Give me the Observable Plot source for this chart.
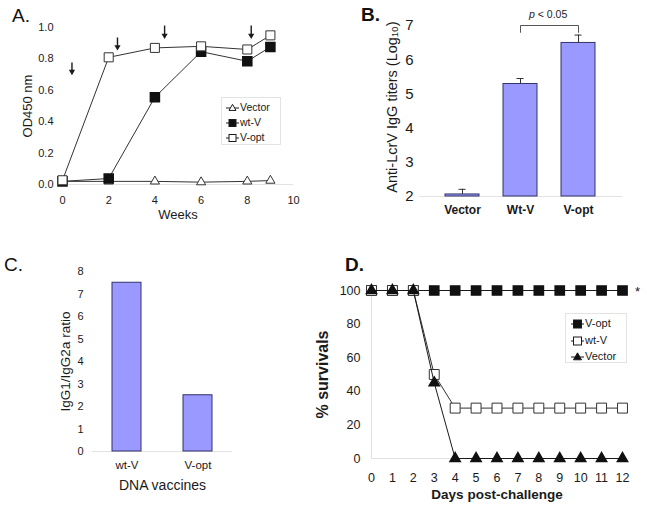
<!DOCTYPE html>
<html><head><meta charset="utf-8">
<script src="https://cdn.jsdelivr.net/npm/d3@7"></script>
<script src="https://cdn.jsdelivr.net/npm/@observablehq/plot@0.6"></script>
<style>
body{margin:0;background:#fff;}
#root{position:relative;width:647px;height:512px;overflow:hidden;font-family:"Liberation Sans",Arial,sans-serif;color:#111;background:#fff;}
.abs{position:absolute;white-space:nowrap;}
.legend{position:absolute;border:1px solid #e3e3e3;background:#fff;box-sizing:border-box;}
</style></head><body><div id="root"></div>
<script>
// ---------- Panel A data ----------
const weeks = [0, 2, 4, 6, 8, 9];
const odVector = [0.02, 0.02, 0.02, 0.015, 0.02, 0.025];
const odWtV = [0.02, 0.038, 0.556, 0.846, 0.785, 0.876];
const odVopt = [0.027, 0.81, 0.87, 0.88, 0.86, 0.95];
const arrowWeeks = [0.41, 2.38, 4.42, 8.17];
const arrowTop = [0.755, 0.914, 0.99, 0.99];
const arrowTip = [0.70, 0.857, 0.93, 0.93];
const weekTicks = [0, 2, 4, 6, 8, 10];
const odTicks = [0, 0.2, 0.4, 0.6, 0.8, 1.0];

// ---------- Panel B data ----------
const titerGroups = ["Vector", "Wt-V", "V-opt"];
const titerMeans = [2.06, 5.29, 6.49];
const titerErrTop = [2.21, 5.45, 6.72];
const titerTicks = [2, 3, 4, 5, 6, 7];

// ---------- Panel C data ----------
const ratioGroups = ["wt-V", "V-opt"];
const ratioValues = [7.5, 2.5];
const ratioTicks = [0, 1, 2, 3, 4, 5, 6, 7, 8];

// ---------- Panel D data ----------
const days = [0, 1, 2, 3, 4, 5, 6, 7, 8, 9, 10, 11, 12];
const survVopt = [100, 100, 100, 100, 100, 100, 100, 100, 100, 100, 100, 100, 100];
const survWtV = [100, 100, 100, 50, 30, 30, 30, 30, 30, 30, 30, 30, 30];
const survVector = [100, 100, 100, 45, 0, 0, 0, 0, 0, 0, 0, 0, 0];
const dayTicks = [0, 1, 2, 3, 4, 5, 6, 7, 8, 9, 10, 11, 12];
const survTicks = [0, 20, 40, 60, 80, 100];

// ---------- texts ----------
const panelLetters = ["A.", "B.", "C.", "D."];
const titleA = ["Weeks", "OD450 nm"];
const titleB = ["Anti-LcrV IgG titers (Log\u2081\u2080)"];
const titleC = ["DNA vaccines", "IgG1/IgG2a ratio"];
const titleD = ["Days post-challenge", "% survivals"];
const legendA = ["Vector", "wt-V", "V-opt"];
const legendD = ["V-opt", "wt-V", "Vector"];

const FONT = '"Liberation Sans", Arial, Helvetica, sans-serif';
const BAR_FILL = "#9999ff", BAR_STROKE = "#33336b", FAINT = "#e2e2e2", INK = "#1a1a1a";
const root = document.getElementById("root");

function place(node, left, top) {
  node.style.position = "absolute";
  node.style.left = left + "px";
  node.style.top = top + "px";
  root.appendChild(node);
}
function html(text, left, top, css) {
  const d = document.createElement("div");
  d.className = "abs";
  d.innerHTML = text;
  Object.assign(d.style, css || {});
  place(d, left, top);
}
function glyph(kind, cx, cy, s, fill) {
  if (kind === "square") return `<rect x="${cx - s/2}" y="${cy - s/2}" width="${s}" height="${s}" fill="${fill}" stroke="${INK}" stroke-width="1"/>`;
  const h = s * 0.87;
  return `<polygon points="${cx},${cy - h*0.6} ${cx - s/2},${cy + h*0.4} ${cx + s/2},${cy + h*0.4}" fill="${fill}" stroke="${INK}" stroke-width="1"/>`;
}
function legend(items, o) {
  const box = document.createElement("div");
  box.className = "legend";
  box.style.width = o.width + "px";
  box.style.height = o.height + "px";
  place(box, o.left, o.top);
  items.forEach((it, i) => {
    const cy = o.rowTop + i * o.rowGap;
    const s = document.createElement("div");
    s.style.position = "absolute";
    s.style.left = o.glyphX + "px";
    s.style.top = (cy - 7) + "px";
    s.innerHTML = `<svg width="${o.glyphW}" height="14" style="overflow:visible;display:block"><line x1="0" x2="${o.glyphW}" y1="7" y2="7" stroke="${INK}" stroke-width="1"/>${glyph(it.kind, o.glyphW/2, 7, o.size, it.fill)}</svg>`;
    box.appendChild(s);
    const t = document.createElement("div");
    t.style.cssText = `position:absolute;left:${o.glyphX + o.glyphW + 1}px;top:${cy - o.fontSize*0.62}px;font-size:${o.fontSize}px;line-height:1.2;white-space:nowrap;color:${INK}`;
    t.textContent = it.label;
    box.appendChild(t);
  });
}

// ================= Panel A =================
const rowsOf = (xs, ys, kx, ky) => xs.map((x, i) => ({[kx]: x, [ky]: ys[i]}));
const aVector = rowsOf(weeks, odVector, "week", "od");
const aWtV = rowsOf(weeks, odWtV, "week", "od");
const aVopt = rowsOf(weeks, odVopt, "week", "od");
const aArrows = arrowWeeks.map((x, i) => ({x, top: arrowTop[i], tip: arrowTip[i]}));

const plotA = Plot.plot({
  width: 320, height: 240,
  marginLeft: 62, marginRight: 27, marginTop: 27, marginBottom: 56,
  style: {fontFamily: FONT, fontSize: "11px", color: INK, background: "none", overflow: "visible"},
  x: {domain: [0, 10], ticks: weekTicks, tickSize: 0, tickPadding: 12, label: null},
  y: {domain: [0, 1], ticks: odTicks, tickSize: 0, tickPadding: 9, tickFormat: d3.format(".1f"), label: null},
  marks: [
    Plot.ruleY([0], {stroke: FAINT}),
    Plot.ruleX(aArrows, {x: "x", y1: "top", y2: "tip", stroke: INK, strokeWidth: 1.4, dy: -3}),
    Plot.dot(aArrows, {x: "x", y: "tip", symbol: "triangle", rotate: 180, r: 2.3, fill: INK, stroke: "none", dy: -3}),
    Plot.line(aVector, {x: "week", y: "od", stroke: "#333", strokeWidth: 1}),
    Plot.dot(aVector, {x: "week", y: "od", symbol: "triangle", r: 3.4, fill: "white", stroke: "#333", strokeWidth: 1}),
    Plot.line(aWtV, {x: "week", y: "od", stroke: "#333", strokeWidth: 1}),
    Plot.dot(aWtV, {x: "week", y: "od", symbol: "square", r: 5.1, fill: "#111", stroke: "#111"}),
    Plot.line(aVopt, {x: "week", y: "od", stroke: "#333", strokeWidth: 1}),
    Plot.dot(aVopt, {x: "week", y: "od", symbol: "square", r: 5.1, fill: "white", stroke: "#333", strokeWidth: 1}),
    Plot.text([titleA[0]], {frameAnchor: "bottom", textAnchor: "middle", dy: 34, fontSize: 13, fill: INK}),
    Plot.text([titleA[1]], {frameAnchor: "left", textAnchor: "middle", dx: -35, rotate: -90, fontSize: 13, fill: INK})
  ]
});
place(plotA, 0, 0);
html(panelLetters[0], 12, 5, {fontSize: "19px"});
legend([
  {label: legendA[0], kind: "triangle", fill: "white"},
  {label: legendA[1], kind: "square", fill: "#111"},
  {label: legendA[2], kind: "square", fill: "white"}
], {left: 221, top: 97, width: 60, height: 48, rowTop: 10, rowGap: 15, glyphX: 4, glyphW: 13, size: 7, fontSize: 10.5});

// ================= Panel B =================
const bRows = titerGroups.map((g, i) => ({g, v: titerMeans[i], e: titerErrTop[i]}));
const bBase = titerTicks[0];
const bracket = [
  {g: titerGroups[1], y: 6.8}, {g: titerGroups[1], y: 7.0},
  {g: titerGroups[2], y: 7.0}, {g: titerGroups[2], y: 6.8}
];
const plotB = Plot.plot({
  width: 317, height: 240,
  marginLeft: 89, marginRight: 25, marginTop: 25, marginBottom: 44,
  style: {fontFamily: FONT, fontSize: "15px", color: INK, background: "none", overflow: "visible"},
  x: {type: "band", domain: titerGroups, paddingInner: 0.41, paddingOuter: 0.455, axis: null},
  y: {domain: [2, 7], ticks: titerTicks, tickSize: 0, tickPadding: 6, tickFormat: d3.format("d"), label: null},
  marks: [
    Plot.ruleY([bBase], {stroke: FAINT}),
    Plot.barY(bRows, {x: "g", y1: () => bBase, y2: "v", fill: BAR_FILL, stroke: BAR_STROKE, strokeWidth: 1}),
    Plot.ruleX(bRows, {x: "g", y1: "v", y2: "e", stroke: "#333", strokeWidth: 1}),
    Plot.tickY(bRows, {x: "g", y: "e", stroke: "#333", strokeWidth: 1, insetLeft: 13.5, insetRight: 13.5}),
    Plot.line(bracket, {x: "g", y: "y", stroke: "#555", strokeWidth: 1}),
    Plot.text(titerGroups, {x: d => d, frameAnchor: "bottom", textAnchor: "middle", dy: 17, fontSize: 12, fontWeight: "bold", fill: INK}),
    Plot.text(titleB, {frameAnchor: "left", textAnchor: "middle", dx: -27, dy: -4, rotate: -90, fontSize: 14.5, fill: INK})
  ]
});
place(plotB, 330, 0);
html(panelLetters[1], 361, 4, {fontSize: "19px", fontWeight: "bold"});
html("<i>p</i> &lt; 0.05", 529, 8, {fontSize: "10.5px", color: "#222"});

// ================= Panel C =================
const cRows = ratioGroups.map((g, i) => ({g, v: ratioValues[i]}));
const plotC = Plot.plot({
  width: 300, height: 252,
  marginLeft: 92, marginRight: 68, marginTop: 11, marginBottom: 61,
  style: {fontFamily: FONT, fontSize: "11px", color: INK, background: "none", overflow: "visible"},
  x: {type: "band", domain: ratioGroups, paddingInner: 0.59, paddingOuter: 0.28, axis: null},
  y: {domain: [0, 8], ticks: ratioTicks, tickSize: 0, tickPadding: 9, label: null},
  marks: [
    Plot.ruleY([0], {stroke: FAINT}),
    Plot.barY(cRows, {x: "g", y: "v", fill: BAR_FILL, stroke: BAR_STROKE, strokeWidth: 1}),
    Plot.text(ratioGroups, {x: d => d, frameAnchor: "bottom", textAnchor: "middle", dy: 17, fontSize: 11.5, fill: INK}),
    Plot.text([titleC[0]], {frameAnchor: "bottom", textAnchor: "middle", dy: 38, fontSize: 14, fill: INK}),
    Plot.text([titleC[1]], {frameAnchor: "left", textAnchor: "middle", dx: -27, rotate: -90, fontSize: 13.5, fill: INK})
  ]
});
place(plotC, 0, 260);
html(panelLetters[2], 4, 254, {fontSize: "19px"});

// ================= Panel D =================
const dVopt = rowsOf(days, survVopt, "day", "s");
const dWtV = rowsOf(days, survWtV, "day", "s");
const dVector = rowsOf(days, survVector, "day", "s");
const plotD = Plot.plot({
  width: 347, height: 252,
  marginLeft: 71, marginRight: 25, marginTop: 30, marginBottom: 54,
  style: {fontFamily: FONT, fontSize: "12.5px", color: INK, background: "none", overflow: "visible"},
  x: {domain: [0, 12], ticks: dayTicks, tickSize: 0, tickPadding: 15, label: null},
  y: {domain: [0, 100], ticks: survTicks, tickSize: 0, tickPadding: 11, label: null},
  marks: [
    Plot.ruleY([0], {stroke: FAINT}),
    Plot.ruleX([0], {stroke: FAINT}),
    Plot.line(dVopt, {x: "day", y: "s", stroke: INK, strokeWidth: 1}),
    Plot.dot(dVopt, {x: "day", y: "s", symbol: "square", r: 5.2, fill: "#111", stroke: "#111"}),
    Plot.line(dWtV, {x: "day", y: "s", stroke: "#333", strokeWidth: 1}),
    Plot.dot(dWtV, {x: "day", y: "s", symbol: "square", r: 5.6, fill: "white", stroke: "#333", strokeWidth: 1}),
    Plot.line(dVector, {x: "day", y: "s", stroke: INK, strokeWidth: 1}),
    Plot.dot(dVector, {x: "day", y: "s", symbol: "triangle", r: 3.8, fill: "#111", stroke: "#111"}),
    Plot.text(dVopt.slice(-1), {x: "day", y: "s", text: () => "*", dx: 15, dy: 1, fontSize: 13, fill: INK}),
    Plot.text([titleD[0]], {frameAnchor: "bottom", textAnchor: "middle", dy: 40, fontSize: 13.5, fontWeight: "bold", fill: INK}),
    Plot.text([titleD[1]], {frameAnchor: "left", textAnchor: "middle", dx: -49, rotate: -90, fontSize: 16, fontWeight: "bold", fill: INK})
  ]
});
place(plotD, 300, 260);
html(panelLetters[3], 345, 254, {fontSize: "19px", fontWeight: "bold"});
legend([
  {label: legendD[0], kind: "square", fill: "#111"},
  {label: legendD[1], kind: "square", fill: "white"},
  {label: legendD[2], kind: "triangle", fill: "#111"}
], {left: 565, top: 313, width: 62, height: 50, rowTop: 10, rowGap: 16.5, glyphX: 5, glyphW: 13, size: 8, fontSize: 11});
</script></body></html>
